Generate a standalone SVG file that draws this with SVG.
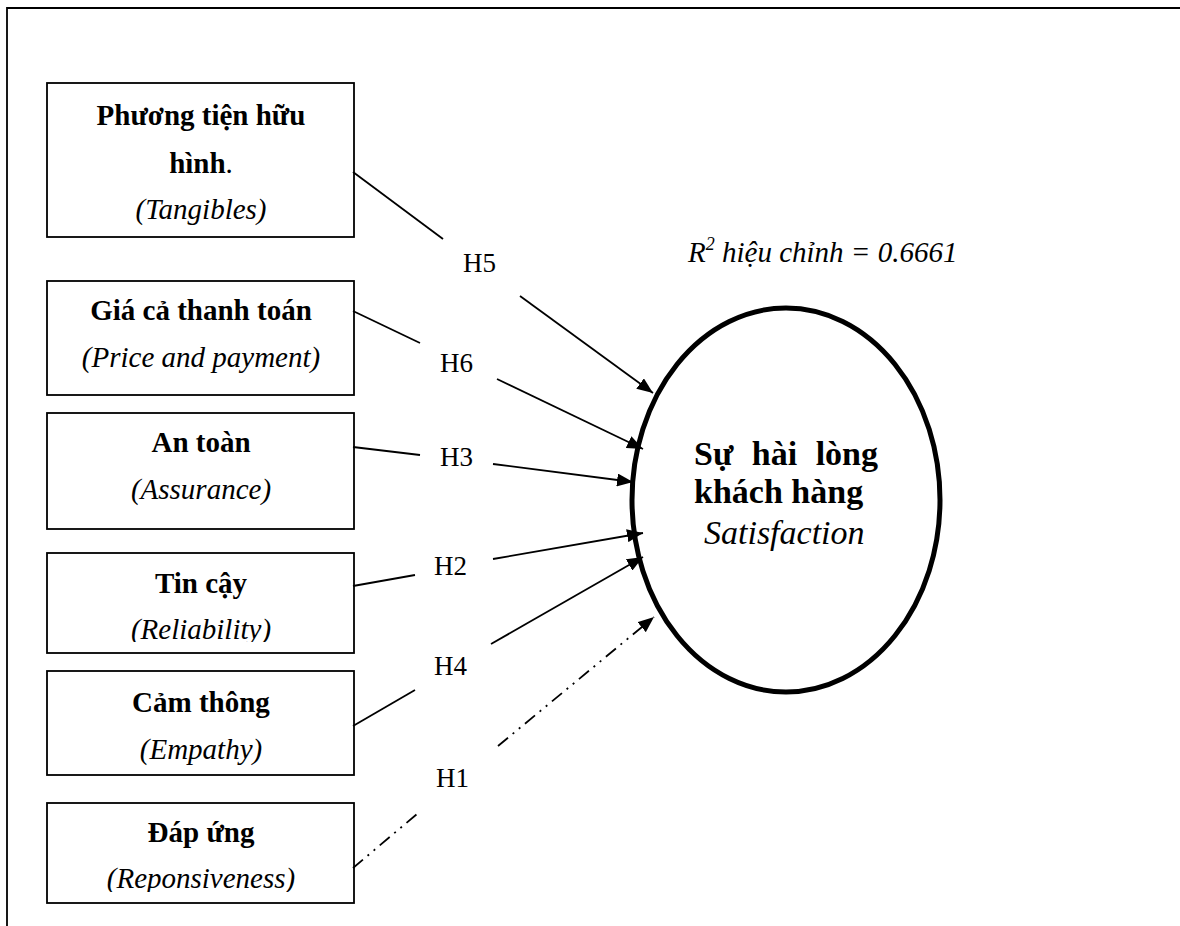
<svg xmlns="http://www.w3.org/2000/svg" width="1180" height="926" viewBox="0 0 1180 926">
<style>
.box{fill:#fff;stroke:#000;stroke-width:1.8}
.b{font-family:"Liberation Serif","Times New Roman",serif;font-weight:bold;font-size:29px;text-anchor:middle;fill:#000}
.i{font-family:"Liberation Serif","Times New Roman",serif;font-style:italic;font-size:29px;text-anchor:middle;fill:#000}
.h{font-family:"Liberation Serif","Times New Roman",serif;font-size:27px;fill:#000}
.ln{stroke:#000;stroke-width:1.8;fill:none}
.dd{stroke-dasharray:13 6 2 6 2 6}
</style>
<defs>
<marker id="ah" markerUnits="userSpaceOnUse" markerWidth="17" markerHeight="13" refX="16" refY="6.5" orient="auto">
<path d="M0,0 L16,6.5 L0,13 z" fill="#000"/>
</marker>
<clipPath id="c4"><rect x="47" y="553" width="307" height="89"/></clipPath>
<clipPath id="c6"><rect x="47" y="803" width="307" height="89"/></clipPath>
</defs>
<rect width="1180" height="926" fill="#fff"/>
<g id="frame"><path d="M7,926 V8 H1180" class="ln" stroke-width="2.2"/></g>

<g id="tangibles">
<rect class="box" x="47" y="83" width="307" height="154"/>
<text class="b" x="201" y="125">Phương tiện hữu</text>
<text class="b" x="201" y="173">hình<tspan font-weight="normal">.</tspan></text>
<text class="i" x="201" y="219">(Tangibles)</text>
</g>
<g id="price">
<rect class="box" x="47" y="281" width="307" height="114"/>
<text class="b" x="201" y="320">Giá cả thanh toán</text>
<text class="i" x="201" y="367">(Price and payment)</text>
</g>
<g id="assurance">
<rect class="box" x="47" y="413" width="307" height="116"/>
<text class="b" x="201" y="452">An toàn</text>
<text class="i" x="201" y="499">(Assurance)</text>
</g>
<g id="reliability">
<rect class="box" x="47" y="553" width="307" height="100"/>
<text class="b" x="201" y="593">Tin cậy</text>
<text class="i" x="201" y="639" clip-path="url(#c4)">(Reliability)</text>
</g>
<g id="empathy">
<rect class="box" x="47" y="671" width="307" height="104"/>
<text class="b" x="201" y="712">Cảm thông</text>
<text class="i" x="201" y="759">(Empathy)</text>
</g>
<g id="responsiveness">
<rect class="box" x="47" y="803" width="307" height="100"/>
<text class="b" x="201" y="842">Đáp ứng</text>
<text class="i" x="201" y="888" clip-path="url(#c6)">(Reponsiveness)</text>
</g>

<g id="satisfaction">
<ellipse cx="786" cy="500" rx="154" ry="192" fill="#fff" stroke="#000" stroke-width="5"/>
<text class="b" x="694" y="465" style="text-anchor:start;font-size:34px" word-spacing="10">Sự hài lòng</text>
<text class="b" x="694" y="503" style="text-anchor:start;font-size:34px">khách hàng</text>
<text class="i" x="704" y="544" style="text-anchor:start;font-size:34px">Satisfaction</text>
</g>

<g id="r2">
<text class="i" x="688" y="262" style="text-anchor:start;font-size:29px">R<tspan font-size="18" dy="-12">2</tspan><tspan dy="12"> hiệu chỉnh = 0.6661</tspan></text>
</g>

<g id="connectors">
<line class="ln" x1="353" y1="172" x2="443" y2="239"/>
<line class="ln" x1="520" y1="296" x2="653" y2="393" marker-end="url(#ah)"/>
<line class="ln" x1="353" y1="311" x2="420" y2="343"/>
<line class="ln" x1="497" y1="379" x2="643" y2="449" marker-end="url(#ah)"/>
<line class="ln" x1="353" y1="447" x2="420" y2="455"/>
<line class="ln" x1="493" y1="464" x2="633" y2="482" marker-end="url(#ah)"/>
<line class="ln" x1="353" y1="586" x2="415" y2="575"/>
<line class="ln" x1="493" y1="559" x2="643" y2="533" marker-end="url(#ah)"/>
<line class="ln" x1="353" y1="726" x2="415" y2="690"/>
<line class="ln" x1="491" y1="644" x2="643" y2="557" marker-end="url(#ah)"/>
<line class="ln dd" x1="353" y1="868" x2="417" y2="814"/>
<line class="ln dd" x1="498" y1="746" x2="654" y2="617" marker-end="url(#ah)"/>
<text class="h" x="463" y="272">H5</text>
<text class="h" x="440" y="372">H6</text>
<text class="h" x="440" y="466">H3</text>
<text class="h" x="434" y="575">H2</text>
<text class="h" x="434" y="675">H4</text>
<text class="h" x="436" y="787">H1</text>
</g>
</svg>
